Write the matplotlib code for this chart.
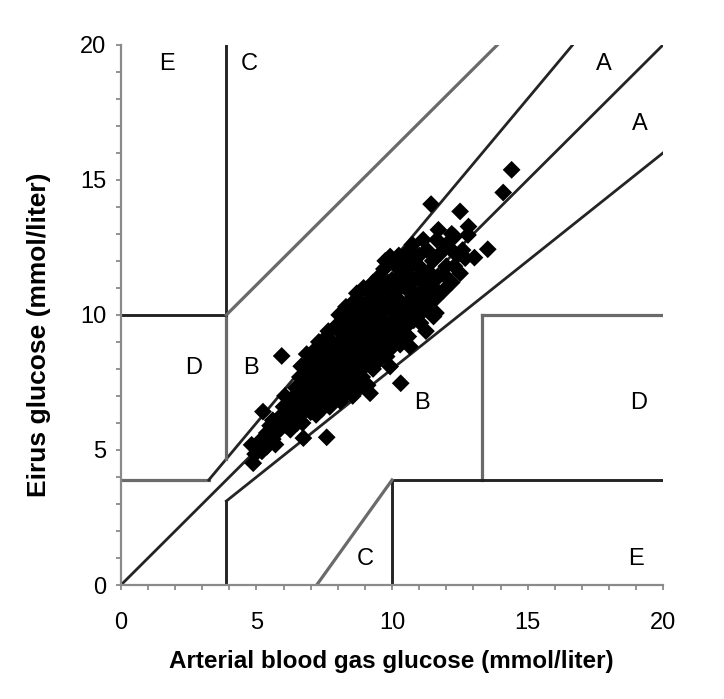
import matplotlib
matplotlib.use("Agg")
import matplotlib.pyplot as plt
from matplotlib.ticker import MultipleLocator

plt.rcParams['font.family'] = ['Liberation Sans', 'DejaVu Sans']

# paired readings (mmol/liter): arterial blood gas vs Eirus
abg = [4.82, 4.88, 4.95, 5.10, 5.24, 5.38, 5.38, 5.20, 5.50, 5.60,
       5.87, 5.93, 5.80, 6.00, 6.10, 6.20, 6.05, 6.30, 6.25,
       6.40, 6.45, 6.50, 6.60, 6.70, 6.73, 6.75, 6.80, 6.60, 6.85, 6.85,
       6.95, 7.00, 7.00, 7.05, 7.10, 7.15, 7.20, 7.20, 7.25, 7.30, 7.30, 7.30,
       7.40, 7.40, 7.45, 7.50, 7.50, 7.55, 7.59, 7.60, 7.60, 7.65, 7.70, 7.70, 7.75, 7.80, 7.80,
       7.90, 7.90, 7.95, 8.00, 8.00, 8.05, 8.10, 8.10, 8.15, 8.20, 8.20, 8.25, 8.30, 8.30, 8.30,
       8.40, 8.40, 8.45, 8.50, 8.50, 8.55, 8.60, 8.60, 8.65, 8.70, 8.70, 8.75, 8.80, 8.80, 8.85,
       8.90, 8.90, 8.95, 9.00, 9.00, 9.05, 9.10, 9.10, 9.15, 9.20, 9.19, 9.25, 9.30, 9.30, 9.30,
       9.40, 9.40, 9.45, 9.50, 9.50, 9.56, 9.60, 9.60, 9.65, 9.70, 9.70, 9.80, 9.80, 9.75,
       9.93, 9.93, 9.90, 9.95, 10.00, 10.00, 10.10, 10.10, 10.15, 10.20, 10.25, 10.30, 10.30, 10.32, 10.35,
       10.40, 10.45, 10.50, 10.55, 10.60, 10.66, 10.66, 10.70, 10.70, 10.80, 10.80, 10.75,
       10.90, 10.95, 11.00, 11.05, 11.10, 11.15, 11.20, 11.28, 11.30, 11.25,
       11.44, 11.40, 11.50, 11.53, 11.60, 11.62, 11.65, 11.71, 11.70, 11.80,
       11.90, 12.00, 12.10, 12.20, 12.30, 12.51, 12.51, 12.40, 12.82, 12.80, 12.70, 13.04, 13.53, 14.10, 14.41,
       5.60, 5.70, 6.15, 6.35, 6.55, 6.65, 6.90, 6.95, 7.10, 7.10, 7.35, 7.35, 7.45, 7.55, 7.65,
       7.85, 7.85, 7.95, 8.05, 8.10, 8.25, 8.35, 8.35, 8.45, 8.55, 8.60, 8.75, 8.75, 8.80, 8.95,
       9.05, 9.10, 9.15, 9.20, 9.35, 9.35, 9.45, 9.55, 9.60, 9.70, 9.75, 9.85, 9.85, 10.05, 10.05,
       10.20, 10.25, 10.40, 10.50, 10.55, 10.60, 10.85, 10.90, 11.00, 11.10, 11.35, 11.40, 11.55, 12.00, 12.20,
       6.30, 6.50, 6.70, 6.80, 7.00, 7.25, 7.50, 8.15, 8.60, 9.00, 9.25, 9.60, 10.00, 10.30, 10.70,
       11.20, 11.50, 11.90, 12.30, 12.60]
eirus = [5.19, 4.51, 4.85, 5.30, 6.42, 5.12, 5.63, 4.95, 5.90, 5.40,
         6.23, 8.48, 5.70, 6.60, 5.90, 6.30, 7.00, 6.90, 5.75,
         6.20, 7.30, 6.70, 7.70, 6.00, 5.44, 7.10, 8.00, 6.35, 6.50, 8.55,
         7.40, 6.40, 8.30, 6.90, 7.80, 8.70, 6.30, 7.20, 8.00, 6.70, 9.00, 7.60,
         6.50, 8.40, 7.10, 7.80, 9.10, 6.80, 5.47, 8.70, 7.40, 9.40, 6.60, 8.10, 7.00, 9.00, 7.70,
         8.40, 6.90, 9.60, 7.30, 8.90, 10.00, 6.80, 8.10, 9.30, 7.60, 8.60, 9.90, 7.10, 8.30, 10.30,
         9.10, 7.40, 8.00, 9.60, 10.40, 7.00, 8.70, 7.80, 10.00, 9.20, 10.80, 7.30, 8.30, 9.60, 10.50,
         7.70, 8.90, 11.00, 9.90, 8.10, 10.40, 7.40, 9.30, 8.60, 10.80, 7.10, 9.70, 8.00, 11.20, 10.20,
         8.90, 9.50, 10.60, 8.30, 11.40, 11.04, 9.90, 8.70, 10.30, 11.70, 9.20, 10.80, 8.46, 12.00,
         8.09, 12.16, 9.60, 10.20, 11.30, 8.80, 10.70, 9.30, 11.80, 9.90, 12.20, 10.40, 8.90, 7.47, 11.10,
         9.60, 11.60, 10.10, 12.00, 9.20, 8.83, 12.41, 10.60, 11.20, 9.80, 11.90, 12.60,
         10.30, 11.40, 12.20, 9.70, 10.80, 12.78, 11.60, 12.41, 10.20, 9.40,
         14.10, 11.00, 12.00, 9.94, 10.60, 10.07, 12.78, 13.15, 11.40, 12.30,
         10.90, 11.80, 12.50, 11.20, 12.90, 13.83, 11.54, 12.20, 13.27, 12.96, 12.10, 12.12, 12.43, 14.53, 15.37,
         6.10, 5.20, 6.70, 6.00, 7.00, 8.10, 7.00, 7.90, 6.60, 8.40, 7.30, 8.10, 8.80, 7.50, 8.30,
         7.30, 8.70, 7.90, 8.50, 9.60, 7.90, 8.80, 9.60, 10.00, 8.30, 9.30, 8.00, 8.90, 10.10, 9.40,
         8.40, 10.00, 9.00, 10.40, 8.50, 9.90, 9.10, 10.00, 10.70, 8.90, 9.60, 10.40, 11.20, 9.70, 10.50,
         10.90, 11.40, 10.40, 11.00, 9.60, 11.50, 10.80, 11.90, 10.00, 11.20, 11.60, 10.50, 11.00, 12.60, 13.00,
         6.50, 6.00, 7.40, 6.80, 7.60, 6.90, 7.20, 7.20, 7.50, 8.50, 8.30, 9.40, 9.00, 9.50, 10.20,
         10.60, 11.30, 11.50, 11.80, 12.40]

# zone letters and where they sit
zone_labels = ['E', 'C', 'A', 'A', 'D', 'B', 'B', 'D', 'C', 'E']
zone_x = [1.7, 4.75, 17.8, 19.15, 2.7, 4.8, 11.1, 19.1, 9.0, 19.0]
zone_y = [19.3, 19.3, 19.3, 17.05, 8.05, 8.05, 6.75, 6.75, 0.95, 0.95]

dark = '#242424'
gray = '#6a6a6a'

fig = plt.figure(figsize=(7.24, 6.99), dpi=100)
ax = fig.add_axes([0.167, 0.163, 0.749, 0.773])

# zone boundaries (Clarke grid, mmol/liter)
ax.plot([0, 20], [0, 20], color=dark, lw=2.0)
ax.plot([0, 3.24], [3.89, 3.89], color=gray, lw=2.3)
ax.plot([3.24, 20 / 1.2], [3.89, 20], color=dark, lw=2.0)
ax.plot([3.89, 3.89], [0, 3.11], color=dark, lw=2.1)
ax.plot([3.89, 20], [3.11, 16], color=dark, lw=2.0)
ax.plot([3.89, 3.89], [10, 20], color=dark, lw=2.1)
ax.plot([3.89, 3.89], [4.67, 10], color=gray, lw=2.3)
ax.plot([0, 3.89], [10, 10], color=dark, lw=2.1)
ax.plot([3.89, 13.89], [10, 20], color=gray, lw=2.3)
ax.plot([13.33, 13.33], [3.89, 10], color=gray, lw=2.3)
ax.plot([13.33, 20], [10, 10], color=gray, lw=2.3)
ax.plot([10, 20], [3.89, 3.89], color=dark, lw=2.1)
ax.plot([10, 10], [0, 3.89], color=dark, lw=2.1)
ax.plot([7.22, 10], [0, 3.89], color=gray, lw=2.3)

ax.scatter(abg, eirus, marker='D', s=82, color='black', edgecolors='none', zorder=3)

for lab, zx, zy in zip(zone_labels, zone_x, zone_y):
    ax.text(zx, zy, lab, fontsize=17, ha='center', va='center', color='black')

ax.set_xlim(0, 20)
ax.set_ylim(0, 20)
ax.xaxis.set_major_locator(MultipleLocator(5))
ax.yaxis.set_major_locator(MultipleLocator(5))
ax.xaxis.set_minor_locator(MultipleLocator(1))
ax.yaxis.set_minor_locator(MultipleLocator(1))

for side in ['top', 'right']:
    ax.spines[side].set_visible(False)
for side in ['left', 'bottom']:
    ax.spines[side].set_color('#8a8a8a')
    ax.spines[side].set_linewidth(1.6)

ax.tick_params(which='both', direction='out', color='#8a8a8a', width=1.3, length=3.5, labelsize=17)
ax.tick_params(axis='x', which='major', pad=16)
ax.tick_params(axis='y', which='major', pad=7)

fig.text(0.541, 0.054, 'Arterial blood gas glucose (mmol/liter)', fontsize=17.5,
         fontweight='bold', ha='center', va='center')
fig.text(0.054, 0.521, 'Eirus glucose (mmol/liter)', fontsize=19, fontweight='bold',
         ha='center', va='center', rotation=90)

fig.savefig('out.png', dpi=100)
